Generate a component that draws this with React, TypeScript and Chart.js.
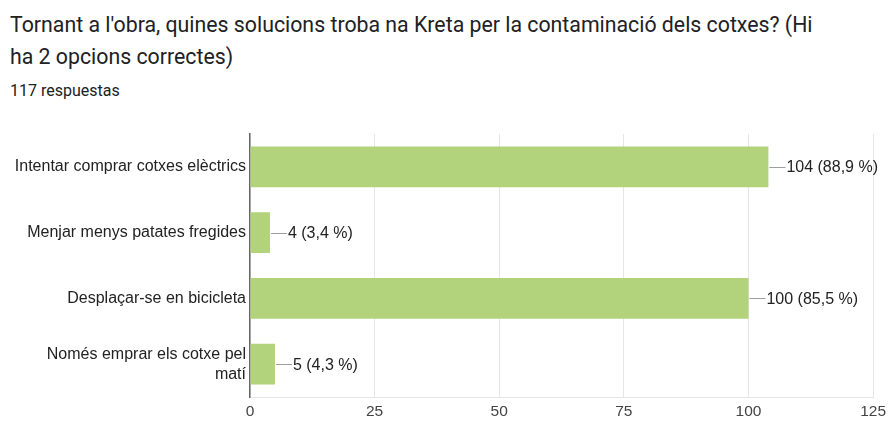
import React, { useEffect, useRef } from "react";
import { Chart, registerables } from "chart.js";

Chart.register(...registerables);

const TITLE_LINES = [
  "Tornant a l'obra, quines solucions troba na Kreta per la contaminació dels cotxes? (Hi",
  "ha 2 opcions correctes)",
];
const SUBTITLE = "117 respuestas";
const categories: (string | string[])[] = [
  "Intentar comprar cotxes elèctrics",
  "Menjar menys patates fregides",
  "Desplaçar-se en bicicleta",
  ["Només emprar els cotxe pel", "matí"],
];
const values = [104, 4, 100, 5];
const percentLabels = ["88,9 %", "3,4 %", "85,5 %", "4,3 %"];
const xTicks = [0, 25, 50, 75, 100, 125];

const LABEL_FONT = "Arial, 'Liberation Sans', sans-serif";

const valueLabelPlugin = {
  id: "valueLabels",
  afterDatasetsDraw(chart: any) {
    const ctx = chart.ctx;
    const meta = chart.getDatasetMeta(0);
    ctx.save();
    meta.data.forEach((bar: any, i: number) => {
      const x = bar.x;
      const y = bar.y;
      ctx.strokeStyle = "#9e9e9e";
      ctx.lineWidth = 1;
      ctx.beginPath();
      ctx.moveTo(x + 1, Math.round(y) + 0.5);
      ctx.lineTo(x + 17, Math.round(y) + 0.5);
      ctx.stroke();
      ctx.fillStyle = "#222222";
      ctx.font = `16px ${LABEL_FONT}`;
      ctx.textAlign = "left";
      ctx.textBaseline = "middle";
      ctx.fillText(`${values[i]} (${percentLabels[i]})`, x + 18, y + 1);
    });
    ctx.restore();
  },
};

export default function App() {
  const ref = useRef<HTMLCanvasElement | null>(null);
  useEffect(() => {
    if (!ref.current) return;
    const chart = new Chart(ref.current, {
      type: "bar",
      data: {
        labels: categories,
        datasets: [
          {
            data: values,
            backgroundColor: "#b2d27c",
            borderWidth: 0,
            barPercentage: 0.62,
            categoryPercentage: 1,
          },
        ],
      },
      options: {
        indexAxis: "y",
        animation: false,
        responsive: false,
        maintainAspectRatio: false,
        layout: { padding: { top: 3, right: 16, left: 0, bottom: 0 } },
        plugins: {
          legend: { display: false },
          tooltip: { enabled: false },
          title: { display: false },
        },
        scales: {
          x: {
            min: 0,
            max: 125,
            afterBuildTicks: (scale: any) => {
              scale.ticks = xTicks.map((v) => ({ value: v }));
            },
            afterFit: (scale: any) => {
              scale.height = 24;
            },
            ticks: {
              color: "#444444",
              font: { family: LABEL_FONT, size: 15.5 },
              padding: 5,
              maxRotation: 0,
            },
            grid: { color: "#e6e6e6", drawTicks: false, lineWidth: 1 },
            border: { color: "#e6e6e6", display: true },
          },
          y: {
            afterFit: (scale: any) => {
              scale.width = 250;
            },
            ticks: {
              color: "#222222",
              font: { family: LABEL_FONT, size: 16, lineHeight: 1.25 },
              padding: 4,
            },
            grid: { display: false, drawTicks: false },
            border: { color: "#666666", width: 1.5 },
          },
        },
      },
      plugins: [valueLabelPlugin],
    } as any);
    return () => chart.destroy();
  }, []);

  return (
    <div
      style={{
        position: "fixed",
        left: 0,
        top: 0,
        width: 891,
        height: 421,
        background: "#ffffff",
        overflow: "hidden",
      }}
    >
      <div
        style={{
          position: "absolute",
          left: 10,
          top: 9,
          fontFamily: "Roboto, sans-serif",
          fontSize: 21.3,
          lineHeight: "32px",
          color: "#202124",
          whiteSpace: "nowrap",
        }}
      >
        {TITLE_LINES.map((l, i) => (
          <div key={i}>{l}</div>
        ))}
      </div>
      <div
        style={{
          position: "absolute",
          left: 10,
          top: 81,
          fontFamily: "Roboto, sans-serif",
          fontSize: 16,
          lineHeight: "20px",
          color: "#202124",
          whiteSpace: "nowrap",
        }}
      >
        {SUBTITLE}
      </div>
      <canvas
        ref={ref}
        width={891}
        height={311}
        style={{ position: "absolute", left: 0, top: 110, width: 891, height: 311 }}
      />
    </div>
  );
}
